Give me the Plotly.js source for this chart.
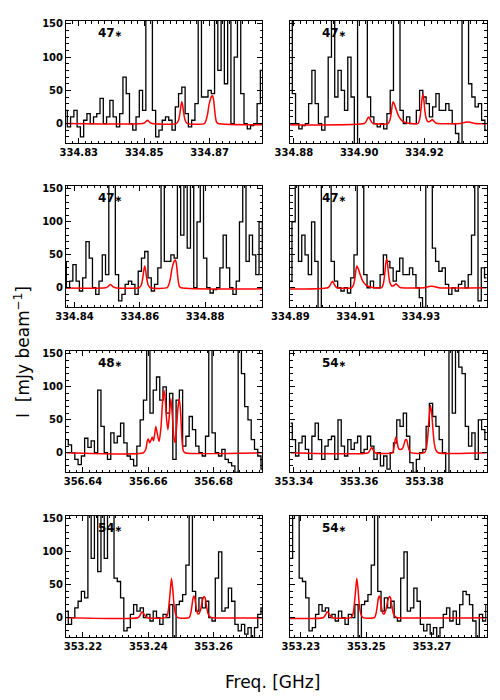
<!DOCTYPE html>
<html>
<head>
<meta charset="utf-8">
<script src="https://cdn.plot.ly/plotly-3.0.1.min.js"></script>
<style>
  body { margin: 0; background: #fff; }
  #plot { width: 500px; height: 700px; }
</style>
</head>
<body>
<div id="plot"></div>
<script>
// channel grid of each observed spectrum (GHz): first channel, width
const chanWidth = 0.001;
const start47 = 334.826;
const start48 = 356.635;
const start54a = 353.339;
const start54b = 353.215;

// observed spectra (mJy/beam), one value per channel
const spec47 = [20, -5, 10, 20, -5, -20, 5, 15, 0, 10,
    15, 38, 0, 10, 35, 10, -5, 15, 70, 45,
    0, -10, 10, 50, 20, 170, 170, 20, -20, -10,
    5, 10, 5, -10, 25, 45, 55, 15, -5, 5,
    30, 170, 40, 40, 50, 45, 170, 80, 170, 60,
    170, 0, 100, 170, 45, 0, -8, -3, 0, 30,
    80, 30, 0, -10, 10, 100, 170, 40, 80, 50,
    20, 100, 40, -35, 170, 170, 170, 40, 10, 0,
    -5, 0, -8, 15, 50, 170, 170, 20, 0, 10,
    0, 0, 20, 50, 40, 30, 10, 25, 45, 20,
    20, 30, 20, 0, -15, -30, 170, 170, 60, 40,
    25, 30, 5, -10, 0, -5, 5, 10, 0, 20,
    80, 170, -20, 30, 15, -10];
const spec48 = [20, 12, 0, -10, -18, -5, 22, 8, 18, 0,
    95, 40, 0, -10, 30, 15, 25, 45, 15, -5,
    -10, -20, 10, 50, 80, 170, 60, 95, 115, 80,
    100, 60, 90, -10, 80, 95, 10, 25, 55, 35,
    10, 0, -5, 25, 170, 30, 0, -5, 5, -10,
    -15, -20, -30, 170, 120, 70, 50, 20, 5, -5, -25];
const spec54a = [45, 20, -5, 15, 25, 5, -10, 25, 45, 20,
    -10, 10, 20, 25, -10, 50, 10, -5, 20, 5,
    15, 25, 0, 5, 25, 10, -10, 0, -20, -5,
    -25, 0, 15, 50, 40, 60, 25, -15, -30, -10,
    0, 5, 40, 75, 55, 40, 20, 0, -35, 170,
    60, 170, 130, 120, 40, 10, 30, -10, 50, 35, 20];
const spec54b = [10, -10, 0, 15, 25, 40, 30, 170, 90, 170,
    70, 170, 90, 170, 170, 60, 55, 30, -20, -15,
    5, 20, 10, 15, 0, 5, -5, 10, 0, -10,
    5, 0, 20, -30, 20, 25, 35, 80, 170, 40,
    10, 30, 15, 25, 0, -5, 60, 100, 10, 15,
    45, 25, -10, -20, -10, -25, -15, -30, -15, 5,
    15, -5, 10, -10, 20, 40, 35, 20, -5, -30,
    5, -5, 20];

// line models (frequency GHz, mJy/beam)
const model47Freq = [334.826, 334.8495, 334.8502, 334.8506, 334.851, 334.8514, 334.8518, 334.8525,
    334.8598, 334.8605, 334.8609, 334.8612, 334.8615, 334.8618, 334.8621, 334.8625, 334.8632,
    334.8684, 334.8689, 334.8694, 334.8698, 334.8702, 334.8706, 334.8709, 334.8712, 334.8715, 334.8718, 334.8721, 334.8726,
    334.9015, 334.9021, 334.9025, 334.9029, 334.9033, 334.9037, 334.9043,
    334.9088, 334.9094, 334.9098, 334.9101, 334.9104, 334.9108, 334.9114, 334.9122, 334.9132, 334.9145, 334.9158,
    334.918, 334.9185, 334.9189, 334.9192, 334.9195, 334.9198, 334.9201, 334.9205, 334.921, 334.9216, 334.9221, 334.9224, 334.9228, 334.9234, 334.924,
    334.931, 334.9325, 334.934, 334.9355, 334.951];
const model47 = [0, 0, 1.5, 3.5, 5, 3.5, 1.5, 0,
    0, 5, 15, 26, 33, 26, 15, 5, 0,
    0, 5, 15, 28, 36, 41, 42, 36, 22, 9, 2, 0,
    0, 3, 7, 10, 7, 3, 0,
    0, 5, 15, 27, 33, 29, 20, 10, 4, 1, 0,
    0, 6, 20, 35, 44, 36, 20, 8, 3, 3, 5, 6, 4, 1, 0,
    0, 2, 2, 0, 0];
const model48Freq = [356.635, 356.6585, 356.6592, 356.6597, 356.66, 356.6604, 356.6609, 356.6612, 356.6616,
    356.662, 356.6623, 356.6627, 356.6633, 356.6639, 356.6644, 356.6648, 356.6652, 356.6656, 356.666,
    356.6664, 356.6669, 356.6673, 356.6678, 356.6682, 356.6686, 356.6691, 356.6695, 356.6699, 356.6703,
    356.6707, 356.6712, 356.695];
const model48 = [0, 0, 5, 18, 21, 15, 20, 24, 18,
    30, 40, 30, 17, 40, 80, 95, 80, 50, 35,
    55, 82, 60, 25, 15, 35, 70, 82, 60, 20,
    3, 0, 0];
const model54aFreq = [353.339, 353.3628, 353.3633, 353.3638, 353.3643, 353.3648,
    353.3702, 353.3707, 353.3712, 353.3717, 353.3721, 353.3726, 353.3732, 353.3737, 353.3741, 353.3745, 353.3749, 353.3753, 353.3758,
    353.38, 353.3806, 353.381, 353.3814, 353.3818, 353.3822, 353.3826, 353.383, 353.3835, 353.3842, 353.4];
const model54a = [0, 0, 4, 8, 4, 0,
    0, 10, 24, 14, 6, 5, 6, 12, 19, 20, 12, 4, 0,
    0, 8, 25, 52, 72, 60, 35, 14, 4, 0, 0];
const model54bFreq = [353.215, 353.2368, 353.2374, 353.2378, 353.2381, 353.2385, 353.239, 353.2396,
    353.2453, 353.2459, 353.2463, 353.2467, 353.2471, 353.2475, 353.2479, 353.2484, 353.249,
    353.2525, 353.253, 353.2534, 353.2537, 353.254, 353.2543, 353.2547, 353.2551, 353.2555,
    353.256, 353.2565, 353.257, 353.2574, 353.2578, 353.2583, 353.259, 353.2596, 353.288];
const model54b = [0, 0, 3, 7, 9, 7, 3, 0,
    0, 5, 18, 40, 60, 42, 18, 5, 0,
    0, 7, 20, 30, 33, 28, 14, 6, 6,
    12, 25, 32, 30, 18, 6, 1, 0, 0];

// panels, left to right then top to bottom
const panelLabels = ['47', '47', '47', '47', '48', '54', '54', '54'];
const panelSpec = ['47', '47', '47', '47', '48', '54a', '54b', '54b'];
const panelRange = [[334.8261, 334.8860], [334.8788, 334.9390],
    [334.8374, 334.8974], [334.8899, 334.9501],
    [356.6348, 356.6948], [353.3388, 353.3990],
    [353.2148, 353.2748], [353.2267, 353.2867]];
const panelTick0 = [334.83, 334.88, 334.84, 334.89, 356.64, 353.34, 353.22, 353.23];

function channels(start, n) {
    let f = [];
    for(let i = 0; i < n; i++) {
        f.push(start + i*chanWidth);
    }
    return f;
}

const spectra = {
    '47': {x: channels(start47, spec47.length), y: spec47, mx: model47Freq, my: model47},
    '48': {x: channels(start48, spec48.length), y: spec48, mx: model48Freq, my: model48},
    '54a': {x: channels(start54a, spec54a.length), y: spec54a, mx: model54aFreq, my: model54a},
    '54b': {x: channels(start54b, spec54b.length), y: spec54b, mx: model54bFreq, my: model54b}
};

function grapher() {
    const colX = [[0.132, 0.524], [0.580, 0.973]];
    const rowY = [[0.7957, 0.97], [0.5614, 0.7343], [0.3257, 0.4986], [0.09, 0.2629]];
    const tickFont = {family: 'DejaVu Sans', size: 10, weight: 'bold', color: '#000'};
    let data = [];
    let layout = {
        width: 500, height: 700,
        margin: {l: 0, r: 0, t: 0, b: 0},
        paper_bgcolor: '#fff', plot_bgcolor: '#fff',
        showlegend: false,
        annotations: []
    };
    for(let k = 0; k < 8; k++) {
        let row = Math.floor(k/2), col = k % 2;
        let n = k == 0 ? '' : String(k+1);
        let s = spectra[panelSpec[k]];
        // spectrum as a histogram, model on top
        data.push({x: s.x, y: s.y, xaxis: 'x'+n, yaxis: 'y'+n, mode: 'lines',
            line: {shape: 'hvh', color: '#000', width: 1.3}, hoverinfo: 'skip'});
        data.push({x: s.mx, y: s.my, xaxis: 'x'+n, yaxis: 'y'+n, mode: 'lines',
            line: {shape: 'spline', smoothing: 0.6, color: '#ff0000', width: 1.5}, hoverinfo: 'skip'});
        layout['xaxis'+n] = {
            domain: colX[col], anchor: 'y'+n, range: panelRange[k],
            tick0: panelTick0[k], dtick: 0.02, tickformat: '.2f', ticks: 'inside', ticklen: 5,
            minor: {dtick: 0.002, tick0: panelTick0[k], ticks: 'inside', ticklen: 2.5, tickcolor: '#000'},
            showline: true, mirror: 'allticks', linecolor: '#000', linewidth: 1,
            tickcolor: '#000', showgrid: false, zeroline: false, tickfont: tickFont
        };
        layout['yaxis'+n] = {
            domain: rowY[row], anchor: 'x'+n, range: [-29.3, 154.5],
            tick0: 0, dtick: 50, ticks: 'inside', ticklen: 5,
            minor: {dtick: 10, ticks: 'inside', ticklen: 2.5, tickcolor: '#000'},
            showline: true, mirror: 'allticks', linecolor: '#000', linewidth: 1,
            tickcolor: '#000', showgrid: false, zeroline: false,
            showticklabels: col == 0, tickfont: tickFont
        };
        layout.annotations.push({
            xref: 'x'+n+' domain', yref: 'y'+n+' domain', x: 0.155, y: 0.90,
            xanchor: 'left', yanchor: 'middle', showarrow: false,
            text: panelLabels[k] + '<span style="font-size:9px">∗</span>',
            font: {family: 'DejaVu Sans', size: 12, weight: 'bold', color: '#000'}
        });
    }
    layout.annotations.push({
        xref: 'paper', yref: 'paper', x: 272/500, y: 1 - 682/700,
        xanchor: 'center', yanchor: 'middle', showarrow: false,
        text: 'Freq. [GHz]', font: {family: 'DejaVu Sans', size: 17, color: '#000'}
    });
    layout.annotations.push({
        xref: 'paper', yref: 'paper', x: 22/500, y: 1 - 352/700,
        xanchor: 'center', yanchor: 'middle', showarrow: false,
        textangle: -90, text: 'I  [mJy beam<sup>−1</sup>]',
        font: {family: 'DejaVu Sans', size: 17, color: '#000'}
    });
    Plotly.newPlot('plot', data, layout, {staticPlot: true});
}

grapher();
</script>
</body>
</html>
